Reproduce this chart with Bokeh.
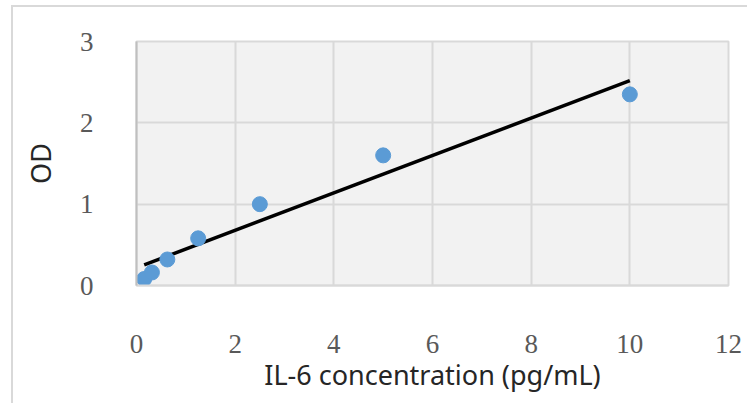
import numpy as np
from bokeh.plotting import figure
from bokeh.models import Range1d, FixedTicker, InlineStyleSheet
from bokeh.embed import file_html
from bokeh.resources import INLINE

# data
conc = [0.156, 0.3125, 0.625, 1.25, 2.5, 5.0, 10.0]
od = [0.08, 0.16, 0.32, 0.58, 1.0, 1.6, 2.35]
x_ticks = [0, 2, 4, 6, 8, 10, 12]
y_ticks = [0, 1, 2, 3]

p = figure(width=747, height=403, output_backend="svg", toolbar_location=None,
           x_range=Range1d(0, 12), y_range=Range1d(0, 3),
           min_border_left=136, min_border_right=19, min_border_top=41, min_border_bottom=118)

# outer chart border (only left and top edges are visible in the reference)
p.stylesheets = [InlineStyleSheet(css="""
:host::after {
  content: "";
  position: absolute;
  left: 11px; top: 5px; right: 0; bottom: 0;
  border-left: 2px solid #d9d9d9;
  border-top: 2px solid #d9d9d9;
  pointer-events: none;
}
""")]

p.background_fill_color = "#f2f2f2"
p.border_fill_color = "white"
p.outline_line_color = "#d9d9d9"
p.outline_line_width = 2

for g in (p.xgrid, p.ygrid):
    g.grid_line_color = "#d9d9d9"
    g.grid_line_width = 2
p.xgrid.ticker = FixedTicker(ticks=x_ticks)
p.ygrid.ticker = FixedTicker(ticks=y_ticks)
p.xaxis.ticker = FixedTicker(ticks=x_ticks)
p.yaxis.ticker = FixedTicker(ticks=y_ticks)

for ax in (p.xaxis, p.yaxis):
    ax.major_tick_out = 0
    ax.major_tick_in = 0
    ax.minor_tick_out = 0
    ax.minor_tick_in = 0
    ax.major_label_text_font = "Liberation Serif"
    ax.major_label_text_font_size = "27px"
    ax.major_label_text_color = "#595959"
    ax.axis_label_text_font = "Noto Sans"
    ax.axis_label_text_font_size = "27px"
    ax.axis_label_text_font_style = "normal"
    ax.axis_label_text_color = "#262626"

p.xaxis.axis_line_color = "#d9d9d9"
p.xaxis.axis_line_width = 2
p.yaxis.axis_line_color = "#bfbfbf"
p.yaxis.axis_line_width = 2

p.xaxis.major_label_standoff = 49
p.yaxis.major_label_standoff = 43
p.xaxis.axis_label = "IL-6 concentration (pg/mL)"
p.yaxis.axis_label = "OD"
p.xaxis.axis_label_standoff = 0
p.yaxis.axis_label_standoff = 18

# linear trend line fitted to the data
slope, intercept = np.polyfit(conc, od, 1)
tx = [min(conc), max(conc)]
ty = [slope * v + intercept for v in tx]
p.line(tx, ty, line_color="black", line_width=3.5)

p.scatter(conc, od, size=15, fill_color="#5b9bd5", line_color="#5b9bd5")

open("out.html", "w").write(file_html(p, INLINE))
